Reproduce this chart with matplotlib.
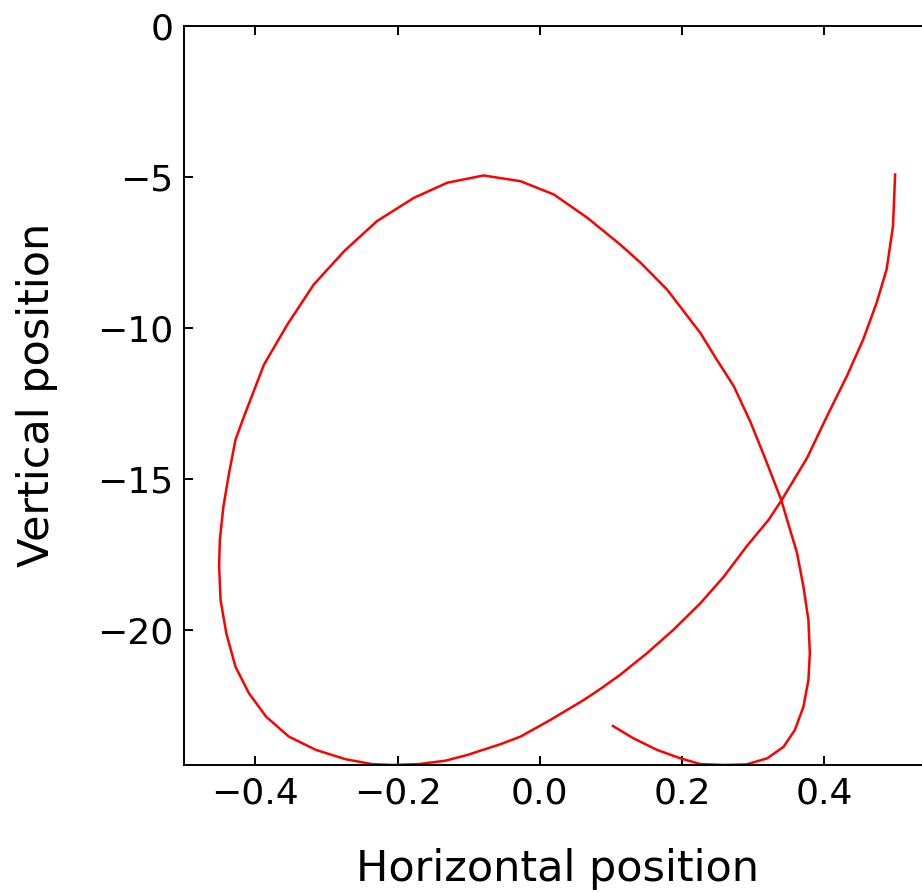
import matplotlib
matplotlib.use("Agg")
import matplotlib.pyplot as plt

# trajectoire (position horizontale, position verticale)
pos_x = [0.500, 0.497, 0.488, 0.474, 0.455, 0.432, 0.404, 0.376, 0.340, 0.322,
         0.291, 0.259, 0.226, 0.188, 0.151, 0.113, 0.085, 0.062, 0.015, -0.027,
         -0.055, -0.102, -0.133, -0.170, -0.207, -0.236, -0.273, -0.315, -0.353, -0.385,
         -0.409, -0.428, -0.441, -0.449, -0.451, -0.450, -0.445, -0.437, -0.428, -0.416,
         -0.388, -0.355, -0.318, -0.275, -0.229, -0.177, -0.130, -0.079, -0.027, 0.020,
         0.067, 0.113, 0.142, 0.179, 0.226, 0.249, 0.273, 0.296, 0.317, 0.340,
         0.348, 0.362, 0.371, 0.378, 0.380, 0.378, 0.371, 0.359, 0.343, 0.320,
         0.291, 0.259, 0.226, 0.198, 0.165, 0.132, 0.103]
pos_y = [-4.93, -6.64, -8.07, -9.17, -10.39, -11.60, -12.93, -14.31, -15.71, -16.35,
         -17.23, -18.23, -19.11, -19.99, -20.76, -21.48, -21.95, -22.31, -22.97, -23.52,
         -23.77, -24.13, -24.32, -24.43, -24.46, -24.43, -24.27, -23.96, -23.52, -22.86,
         -22.09, -21.21, -20.10, -19.00, -17.89, -17.01, -15.91, -14.80, -13.70, -12.93,
         -11.22, -9.89, -8.57, -7.46, -6.47, -5.70, -5.20, -4.96, -5.15, -5.59,
         -6.36, -7.24, -7.85, -8.73, -10.17, -11.05, -11.93, -13.09, -14.31, -15.71,
         -16.35, -17.45, -18.56, -19.66, -20.76, -21.65, -22.53, -23.30, -23.86, -24.24,
         -24.44, -24.46, -24.43, -24.24, -23.96, -23.58, -23.17]

fig = plt.figure(figsize=(9.22, 8.92), dpi=100)
ax = fig.add_axes([0.1999, 0.1424, 0.8095, 0.829])

ax.plot(pos_x, pos_y, color="red", linewidth=1.8)

ax.set_xlim(-0.5, 0.55)
ax.set_ylim(-24.46, 0)
ax.set_xticks([-0.4, -0.2, 0.0, 0.2, 0.4])
ax.set_yticks([0, -5, -10, -15, -20])

ax.tick_params(direction="in", top=True, right=True, length=6.5, width=1.4,
               labelsize=26, pad=8)
for s in ax.spines.values():
    s.set_linewidth(1.4)

ax.set_xlabel("Horizontal position", fontsize=31, labelpad=27)
ax.set_ylabel("Vertical position", fontsize=31, labelpad=28)

fig.savefig("out.png", dpi=100)
